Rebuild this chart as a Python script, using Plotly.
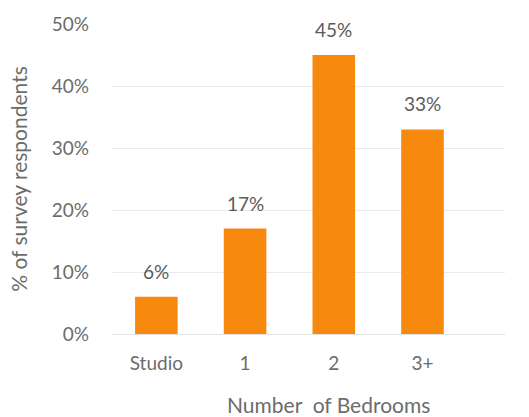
import plotly.graph_objects as go

# Share of survey respondents by number of bedrooms
categories = ["Studio", "1", "2", "3+"]
shares = [6, 17, 45, 33]
y_ticks = [0, 10, 20, 30, 40, 50]
y_tick_labels = ["0%", "10%", "20%", "30%", "40%", "50%"]

BAR = "#F7890E"
TEXT = "#6C6C6C"
FONT = "Lato, 'Open Sans', sans-serif"

fig = go.Figure(
    go.Bar(
        x=list(range(len(categories))),
        y=shares,
        width=0.48,
        marker=dict(color=BAR, line=dict(width=0)),
        hoverinfo="skip",
    )
)

# value labels above each bar
for i, v in enumerate(shares):
    fig.add_annotation(
        x=i, y=v, text=f"{v}%", showarrow=False,
        yanchor="bottom", yshift=12,
        font=dict(family=FONT, size=19, color="#5C5C5C"),
    )

fig.add_annotation(
    x=0.552, y=0, xref="paper", yref="paper",
    text="Number  of Bedrooms", showarrow=False,
    yanchor="top", yshift=-56,
    font=dict(family=FONT, size=21, color=TEXT),
)

fig.update_layout(
    width=529, height=417,
    margin=dict(l=112, r=24, t=17, b=83),
    paper_bgcolor="white", plot_bgcolor="white",
    showlegend=False,
    font=dict(family=FONT, color=TEXT),
    xaxis=dict(
        range=[-0.5, 3.93],
        tickmode="array",
        tickvals=list(range(len(categories))),
        ticktext=categories,
        tickfont=dict(size=19, color=TEXT),
        showgrid=False, zeroline=False, showline=False,
        ticks="", ticklabelstandoff=16,
        fixedrange=True,
    ),
    yaxis=dict(
        range=[0, 50],
        tickmode="array",
        tickvals=y_ticks,
        ticktext=y_tick_labels,
        tickfont=dict(size=19, color=TEXT),
        showgrid=True, gridcolor="#EAEAEA", gridwidth=1,
        zeroline=True, zerolinecolor="#E2E2E2", zerolinewidth=1,
        showline=False, ticks="", ticklabelstandoff=22,
        title=dict(text="% of survey respondents", standoff=18,
                   font=dict(family=FONT, size=21, color=TEXT)),
        fixedrange=True,
    ),
)

fig.write_html("out.html", config={"displayModeBar": False})
